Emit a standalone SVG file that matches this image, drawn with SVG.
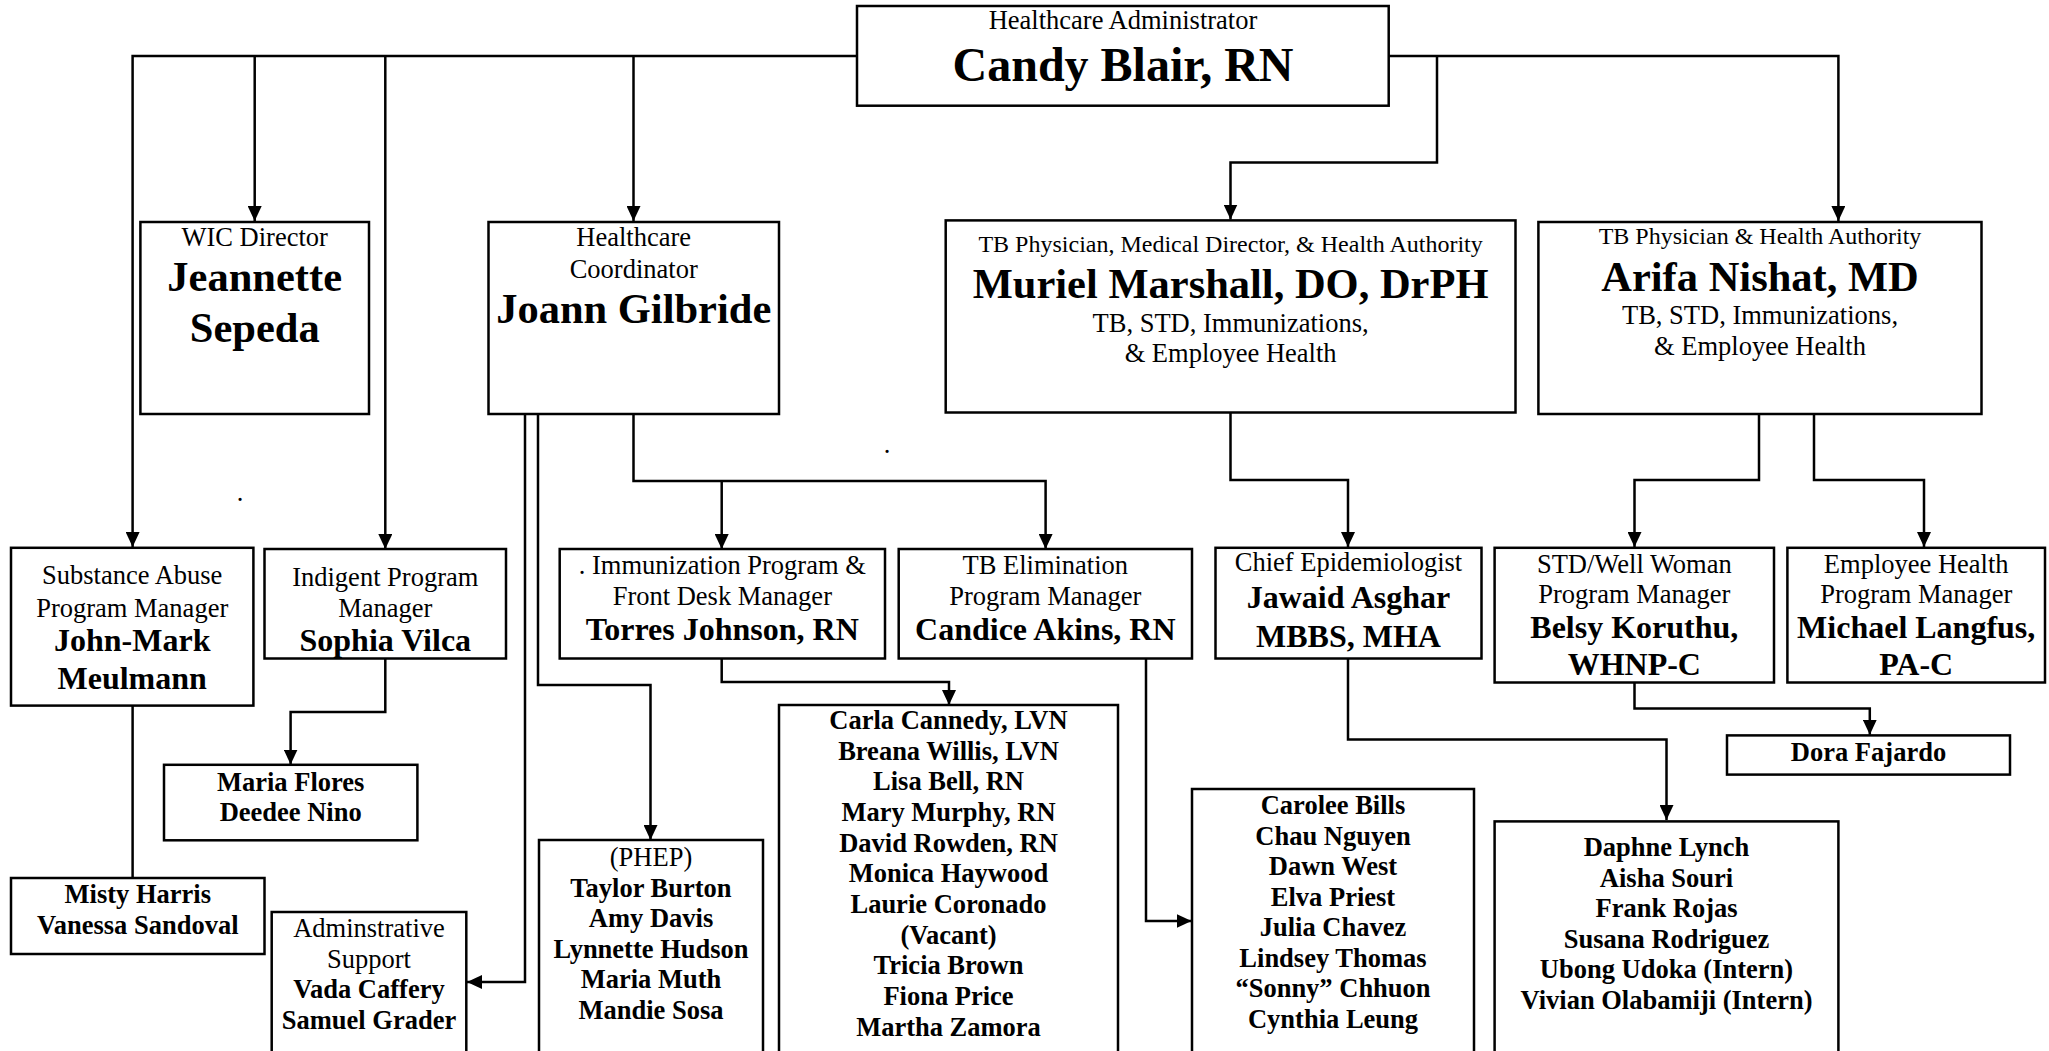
<svg xmlns="http://www.w3.org/2000/svg" width="2049" height="1051" viewBox="0 0 2049 1051">
<style>
text{font-family:"Liberation Serif","Times New Roman",serif;fill:#000;text-anchor:middle}
.r{font-size:26.5px}
.s{font-size:24px}
.b{font-size:26.5px;font-weight:bold}
.m{font-size:32px;font-weight:bold}
.n{font-size:42.5px;font-weight:bold}
.t{font-size:48px;font-weight:bold}
.box{fill:#fff;stroke:#000;stroke-width:2.5}
.c{fill:none;stroke:#000;stroke-width:2.5}
</style>
<defs>
<marker id="a" viewBox="0 0 15 14" refX="15" refY="7" markerWidth="15" markerHeight="14" markerUnits="userSpaceOnUse" orient="auto">
<path d="M0,0 L15,7 L0,14 z" fill="#000"/>
</marker>
</defs>
<rect width="2049" height="1051" fill="#fff"/>
<g id="connectors">
<path class="c" d="M857,56 H132.6 V547" marker-end="url(#a)"/>
<path class="c" d="M254.7,56 V221" marker-end="url(#a)"/>
<path class="c" d="M385.3,56 V549" marker-end="url(#a)"/>
<path class="c" d="M633.5,56 V221" marker-end="url(#a)"/>
<path class="c" d="M1388.7,56 H1838.4 V221" marker-end="url(#a)"/>
<path class="c" d="M1437,56 V162.5 H1230.5 V219.5" marker-end="url(#a)"/>
<path class="c" d="M633.5,414 V481 H1045.6 V549" marker-end="url(#a)"/>
<path class="c" d="M721.7,481 V549" marker-end="url(#a)"/>
<path class="c" d="M525,414 V982 H467" marker-end="url(#a)"/>
<path class="c" d="M538,414 V685 H650.5 V840" marker-end="url(#a)"/>
<path class="c" d="M132.6,705.6 V878"/>
<path class="c" d="M385.3,658.5 V712 H290.6 V764.5" marker-end="url(#a)"/>
<path class="c" d="M721.7,658.5 V682 H949 V705" marker-end="url(#a)"/>
<path class="c" d="M1146,658.5 V921 H1191.5" marker-end="url(#a)"/>
<path class="c" d="M1230.5,412.5 V480 H1348 V547" marker-end="url(#a)"/>
<path class="c" d="M1759,414 V480 H1634.5 V547" marker-end="url(#a)"/>
<path class="c" d="M1814,411 V480 H1924 V547" marker-end="url(#a)"/>
<path class="c" d="M1348,658.5 V739.4 H1666.5 V820" marker-end="url(#a)"/>
<path class="c" d="M1634.5,682.5 V708.6 H1869.8 V734.7" marker-end="url(#a)"/>
</g>
<g id="stray">
<text class="r" x="887" y="453">.</text>
<text class="r" x="240" y="501">.</text>
</g>
<g id="candy">
<rect class="box" x="857" y="6" width="531.7" height="99.7"/>
<text class="r" x="1123" y="29">Healthcare Administrator</text>
<text class="t" x="1123" y="81">Candy Blair, RN</text>
</g>
<g id="wic">
<rect class="box" x="140.4" y="222" width="228.6" height="192"/>
<text class="r" x="254.7" y="245.5">WIC Director</text>
<text class="n" x="254.7" y="291">Jeannette</text>
<text class="n" x="254.7" y="342">Sepeda</text>
</g>
<g id="coordinator">
<rect class="box" x="488.5" y="222" width="290.5" height="192"/>
<text class="r" x="633.7" y="245.5">Healthcare</text>
<text class="r" x="633.7" y="278">Coordinator</text>
<text class="n" x="633.7" y="323">Joann Gilbride</text>
</g>
<g id="muriel">
<rect class="box" x="945.7" y="220.4" width="569.8" height="192.1"/>
<text class="s" x="1230.6" y="251.5">TB Physician, Medical Director, &amp; Health Authority</text>
<text class="n" x="1230.6" y="298">Muriel Marshall, DO, DrPH</text>
<text class="r" x="1230.6" y="331.6">TB, STD, Immunizations,</text>
<text class="r" x="1230.6" y="361.7">&amp; Employee Health</text>
</g>
<g id="arifa">
<rect class="box" x="1538.4" y="222" width="443.1" height="192"/>
<text class="s" x="1760" y="244">TB Physician &amp; Health Authority</text>
<text class="n" x="1760" y="290.6">Arifa Nishat, MD</text>
<text class="r" x="1760" y="323.7">TB, STD, Immunizations,</text>
<text class="r" x="1760" y="355">&amp; Employee Health</text>
</g>
<g id="substance">
<rect class="box" x="11" y="547.8" width="242.4" height="157.8"/>
<text class="r" x="132.2" y="584">Substance Abuse</text>
<text class="r" x="132.2" y="616.5">Program Manager</text>
<text class="m" x="132.2" y="651">John-Mark</text>
<text class="m" x="132.2" y="689">Meulmann</text>
</g>
<g id="indigent">
<rect class="box" x="264.5" y="549" width="241.5" height="109.5"/>
<text class="r" x="385.3" y="585.5">Indigent Program</text>
<text class="r" x="385.3" y="617">Manager</text>
<text class="m" x="385.3" y="651">Sophia Vilca</text>
</g>
<g id="immunization">
<rect class="box" x="559.7" y="549" width="325.3" height="109.5"/>
<text class="r" x="722.3" y="573.5">. Immunization Program &amp;</text>
<text class="r" x="722.3" y="605">Front Desk Manager</text>
<text class="m" x="722.3" y="640">Torres Johnson, RN</text>
</g>
<g id="tbelim">
<rect class="box" x="898.7" y="549" width="293.3" height="109.5"/>
<text class="r" x="1045.3" y="573.5">TB Elimination</text>
<text class="r" x="1045.3" y="605">Program Manager</text>
<text class="m" x="1045.3" y="640">Candice Akins, RN</text>
</g>
<g id="epi">
<rect class="box" x="1215.5" y="547.8" width="266" height="110.7"/>
<text class="r" x="1348.5" y="571">Chief Epidemiologist</text>
<text class="m" x="1348.5" y="608">Jawaid Asghar</text>
<text class="m" x="1348.5" y="647">MBBS, MHA</text>
</g>
<g id="std">
<rect class="box" x="1494.6" y="547.8" width="279.4" height="134.7"/>
<text class="r" x="1634.3" y="572.5">STD/Well Woman</text>
<text class="r" x="1634.3" y="603">Program Manager</text>
<text class="m" x="1634.3" y="638">Belsy Koruthu,</text>
<text class="m" x="1634.3" y="675">WHNP-C</text>
</g>
<g id="employee">
<rect class="box" x="1787.4" y="547.8" width="257.6" height="134.7"/>
<text class="r" x="1916.2" y="572.5">Employee Health</text>
<text class="r" x="1916.2" y="603">Program Manager</text>
<text class="m" x="1916.2" y="638">Michael Langfus,</text>
<text class="m" x="1916.2" y="675">PA-C</text>
</g>
<g id="flores">
<rect class="box" x="164" y="764.8" width="253.4" height="75.5"/>
<text class="b" x="290.7" y="790.5">Maria Flores</text>
<text class="b" x="290.7" y="820.5">Deedee Nino</text>
</g>
<g id="misty">
<rect class="box" x="11" y="878" width="253.5" height="76"/>
<text class="b" x="137.8" y="903">Misty Harris</text>
<text class="b" x="137.8" y="934">Vanessa Sandoval</text>
</g>
<g id="admin">
<rect class="box" x="271.7" y="912" width="194.6" height="150"/>
<text class="r" x="369" y="937">Adminstrative</text>
<text class="r" x="369" y="967.5">Support</text>
<text class="b" x="369" y="998">Vada Caffery</text>
<text class="b" x="369" y="1029">Samuel Grader</text>
</g>
<g id="phep">
<rect class="box" x="539" y="840" width="224" height="220"/>
<text class="r" x="651" y="866">(PHEP)</text>
<text class="b" x="651" y="896.5">Taylor Burton</text>
<text class="b" x="651" y="927">Amy Davis</text>
<text class="b" x="651" y="957.5">Lynnette Hudson</text>
<text class="b" x="651" y="988">Maria Muth</text>
<text class="b" x="651" y="1018.5">Mandie Sosa</text>
</g>
<g id="nurses">
<rect class="box" x="779" y="705" width="339" height="360"/>
<text class="b" x="948.5" y="729">Carla Cannedy, LVN</text>
<text class="b" x="948.5" y="759.6">Breana Willis, LVN</text>
<text class="b" x="948.5" y="790.3">Lisa Bell, RN</text>
<text class="b" x="948.5" y="821">Mary Murphy, RN</text>
<text class="b" x="948.5" y="851.6">David Rowden, RN</text>
<text class="b" x="948.5" y="882.3">Monica Haywood</text>
<text class="b" x="948.5" y="913">Laurie Coronado</text>
<text class="b" x="948.5" y="943.6">(Vacant)</text>
<text class="b" x="948.5" y="974.2">Tricia Brown</text>
<text class="b" x="948.5" y="1004.9">Fiona Price</text>
<text class="b" x="948.5" y="1035.5">Martha Zamora</text>
</g>
<g id="tbstaff">
<rect class="box" x="1192" y="789" width="282" height="280"/>
<text class="b" x="1333" y="814">Carolee Bills</text>
<text class="b" x="1333" y="844.5">Chau Nguyen</text>
<text class="b" x="1333" y="875">Dawn West</text>
<text class="b" x="1333" y="905.5">Elva Priest</text>
<text class="b" x="1333" y="936">Julia Chavez</text>
<text class="b" x="1333" y="966.5">Lindsey Thomas</text>
<text class="b" x="1333" y="997">“Sonny” Chhuon</text>
<text class="b" x="1333" y="1027.5">Cynthia Leung</text>
</g>
<g id="epistaff">
<rect class="box" x="1494.6" y="821.4" width="343.8" height="250"/>
<text class="b" x="1666.5" y="856">Daphne Lynch</text>
<text class="b" x="1666.5" y="886.5">Aisha Souri</text>
<text class="b" x="1666.5" y="917">Frank Rojas</text>
<text class="b" x="1666.5" y="947.5">Susana Rodriguez</text>
<text class="b" x="1666.5" y="978">Ubong Udoka (Intern)</text>
<text class="b" x="1666.5" y="1008.5">Vivian Olabamiji (Intern)</text>
</g>
<g id="dora">
<rect class="box" x="1727" y="735.4" width="283" height="39.2"/>
<text class="b" x="1868.5" y="761">Dora Fajardo</text>
</g>
</svg>
